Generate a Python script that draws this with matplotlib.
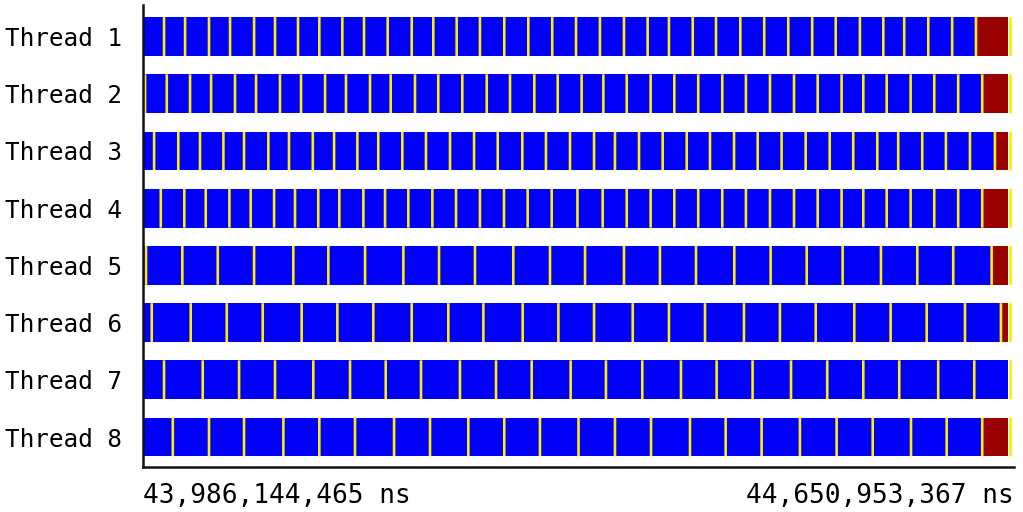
import matplotlib
matplotlib.use("Agg")
import matplotlib.pyplot as plt

# time offsets (ms from start) where each thread switches task (yellow marks)
thread1 = [15.3, 31.4, 49.7, 65.8, 84.2, 100.2, 117.8, 134.1, 151.7, 168.3, 186.4, 204.8,
           221.3, 239.2, 257.0, 275.6, 294.0, 312.3, 330.5, 348.8, 367.2, 385.3, 401.6,
           419.8, 437.6, 456.2, 474.5, 492.9, 511.2, 529.2, 547.7, 565.6, 581.6, 600.0, 618.3]
thread2 = [0.8, 17.4, 35.2, 51.3, 69.6, 85.7, 104.0, 120.1, 138.5, 154.5, 172.9, 188.7,
           207.3, 225.1, 243.5, 262.2, 280.0, 298.6, 316.5, 334.8, 351.4, 369.3, 387.6,
           405.7, 424.0, 442.4, 460.5, 478.9, 497.3, 515.4, 533.7, 550.3, 568.2, 586.5,
           604.6, 622.9]
thread3 = [7.7, 26.2, 42.8, 60.7, 76.5, 95.1, 110.9, 129.1, 145.4, 163.2, 179.2, 197.6,
           215.7, 234.1, 252.5, 270.6, 289.4, 307.5, 325.9, 344.3, 360.3, 378.7, 396.8,
           415.2, 433.0, 451.4, 469.5, 487.8, 506.2, 524.6, 542.6, 561.0, 577.0, 595.4,
           613.5, 631.9]
thread4 = [12.8, 30.8, 47.2, 65.3, 81.6, 99.5, 115.5, 133.3, 149.4, 167.8, 184.4, 202.2,
           220.6, 238.7, 257.0, 275.4, 293.5, 311.9, 331.6, 350.9, 369.3, 387.6, 405.7,
           424.0, 442.4, 460.5, 478.9, 497.3, 515.4, 533.7, 550.3, 568.2, 586.5, 604.6,
           622.9]
thread5 = [1.5, 29.3, 56.4, 84.2, 114.2, 141.0, 169.1, 198.4, 225.7, 253.2, 282.5, 310.6,
           337.4, 367.2, 394.7, 422.3, 451.6, 479.4, 507.0, 534.5, 563.8, 591.6, 619.1]
thread6 = [5.9, 35.7, 63.3, 90.8, 120.6, 147.9, 175.4, 204.8, 232.8, 259.6, 289.7, 317.0,
           344.3, 373.9, 401.6, 429.2, 459.0, 486.5, 513.9, 543.4, 571.2, 598.8, 628.1]
thread7 = [15.3, 44.9, 72.7, 100.2, 129.5, 157.6, 184.9, 211.9, 241.7, 269.3, 296.6,
           326.4, 353.4, 381.2, 410.8, 438.1, 465.6, 495.0, 522.7, 550.3, 577.8, 607.6, 635.2]
thread8 = [22.0, 49.7, 76.5, 106.6, 134.1, 161.4, 191.3, 218.8, 248.1, 275.6, 302.9,
           332.4, 360.3, 387.9, 417.7, 445.0, 472.5, 501.8, 529.9, 557.5, 586.8, 614.1]

switches = [thread1, thread2, thread3, thread4, thread5, thread6, thread7, thread8]
thread_names = ["Thread %d" % (i + 1) for i in range(8)]

# start of the dark red (waiting) block per thread, None = no red block
red_start = [636.5, 641.3, 651.0, 641.3, 648.5, 655.6, None, 641.3]
red_end = 661.2
end_mark = 663.0

start_ns = 43986144465
end_ns = 44650953367

BLUE = "#0000fa"
RED = "#990000"
YELLOW = "#ffee00"
mark_w = 2.0

fig = plt.figure(figsize=(10.23, 5.12), dpi=100)
ax = fig.add_axes([143 / 1023, 45 / 512, 871 / 1023, 462 / 512])

bar_h = 0.68
for row, sw in enumerate(switches):
    stop = red_start[row] if red_start[row] is not None else red_end
    bounds = [0.0] + sw + [stop]
    blue = [(bounds[i], bounds[i + 1] - bounds[i]) for i in range(len(bounds) - 1)]
    ax.broken_barh(blue, (row - bar_h / 2, bar_h), facecolors=BLUE, edgecolor="none")
    marks = list(sw)
    if red_start[row] is not None:
        ax.broken_barh([(red_start[row], red_end - red_start[row])], (row - bar_h / 2, bar_h),
                       facecolors=RED, edgecolor="none")
        marks.append(red_start[row])
    marks.append(end_mark)
    ax.broken_barh([(m - mark_w / 2, mark_w) for m in marks], (row - bar_h / 2, bar_h),
                   facecolors=YELLOW, edgecolor="none", snap=False)

ax.set_xlim(-0.8, 665.6)
ax.set_ylim(7.524, -0.552)
ax.set_yticks(range(8))
ax.set_yticklabels(thread_names, family="DejaVu Sans Mono", fontsize=17.6)
ax.tick_params(axis="y", length=0, pad=15)
ax.set_xticks([])
for side in ["top", "right"]:
    ax.spines[side].set_visible(False)
for side in ["left", "bottom"]:
    ax.spines[side].set_linewidth(1.8)
    ax.spines[side].set_color("#111111")

ax.text(0, -0.078, f"{start_ns:,} ns", transform=ax.transAxes, ha="left", va="baseline",
        family="DejaVu Sans Mono", fontsize=18.8)
ax.text(1, -0.078, f"{end_ns:,} ns", transform=ax.transAxes, ha="right", va="baseline",
        family="DejaVu Sans Mono", fontsize=18.8)

fig.savefig("out.png", dpi=100)
